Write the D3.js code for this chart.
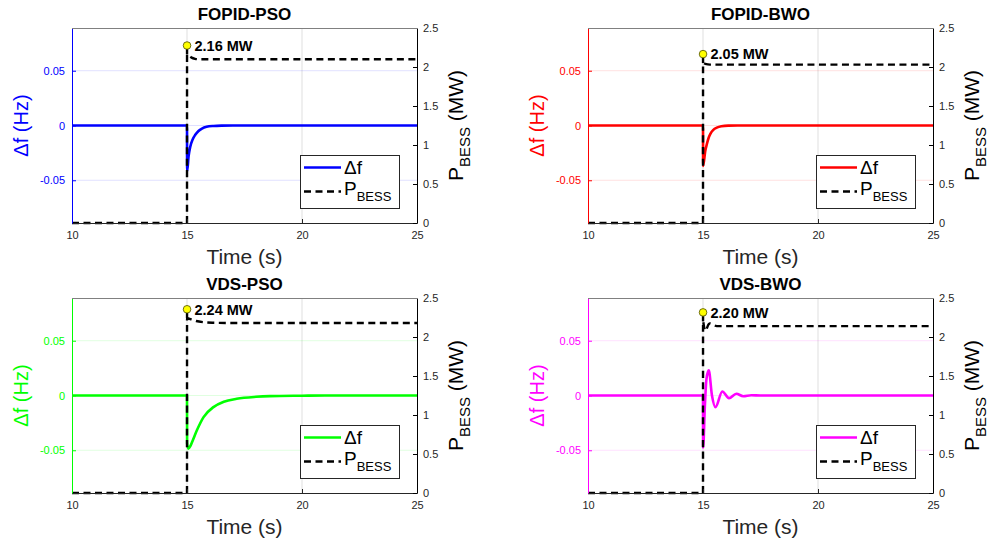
<!DOCTYPE html>
<html>
<head>
<meta charset="utf-8">
<script src="https://cdn.jsdelivr.net/npm/d3@7"></script>
<style>
  body { margin: 0; background: #fff; }
  svg { display: block; }
  text { font-family: "Liberation Sans", Arial, Helvetica, sans-serif; }
</style>
</head>
<body>
<svg id="chart" width="998" height="545"></svg>
<script>
// ---- data ----
const titles = ["FOPID-PSO", "FOPID-BWO", "VDS-PSO", "VDS-BWO"];
const lineColors = ["#0000ff", "#ff0000", "#00ff00", "#ff00ff"];
const timeTicks = [10, 15, 20, 25];
const dfTicks = [-0.05, 0, 0.05];
const pTicks = [0, 0.5, 1, 1.5, 2, 2.5];
const timeDomain = [10, 25];
const dfDomain = [-0.089, 0.089];
const pDomain = [0, 2.5];

// frequency deviation [time s, Δf Hz]
const dfFopidPso = [[10, 0], [15, 0], [15.005, -0.042], [15.07, -0.028], [15.14, -0.0196], [15.25, -0.0125],
  [15.36, -0.0085], [15.5, -0.005], [15.65, -0.0028], [15.85, -0.0012], [16.15, -0.0004], [16.5, -0.0001], [17, 0], [25, 0]];
const dfFopidBwo = [[10, 0], [15, 0], [15.005, -0.037], [15.1, -0.023], [15.17, -0.0168], [15.25, -0.011],
  [15.32, -0.0076], [15.45, -0.004], [15.6, -0.002], [15.8, -0.0007], [16.1, -0.0001], [16.5, 0], [25, 0]];
const dfVdsPso = [[10, 0], [15, 0], [15.005, -0.044], [15.06, -0.0485], [15.15, -0.046], [15.25, -0.041],
  [15.43, -0.0318], [15.72, -0.0197], [16.15, -0.0106], [16.6, -0.0057], [17.16, -0.003], [18, -0.0012],
  [18.6, -0.0006], [20, -0.0002], [21, 0], [25, 0]];
const dfVdsBwo = [[10, 0], [15, 0], [15.005, -0.0475], [15.08, -0.01], [15.15, 0.015], [15.25, 0.0229],
  [15.39, 0], [15.54, -0.0106], [15.84, 0.0037], [16.13, -0.0024], [16.45, 0.0016], [16.75, -0.0007],
  [17.1, 0.0002], [17.5, 0], [25, 0]];

// BESS power [time s, P MW]
const pFopidPso = [[10, 0], [15, 0], [15.002, 2.16], [15.1, 2.14], [15.2, 2.12], [15.35, 2.105], [15.5, 2.10], [25, 2.10]];
const pFopidBwo = [[10, 0], [15, 0], [15.002, 2.05], [15.1, 2.04], [15.3, 2.03], [25, 2.03]];
const pVdsPso = [[10, 0], [15, 0], [15.002, 2.24], [15.2, 2.225], [15.4, 2.205], [15.7, 2.19], [16.1, 2.183], [17, 2.18], [25, 2.18]];
const pVdsBwo = [[10, 0], [15, 0], [15.002, 2.20], [15.05, 2.12], [15.1, 2.08], [15.25, 2.165], [15.3, 2.175],
  [15.6, 2.14], [25, 2.14]];

const dfSeries = [dfFopidPso, dfFopidBwo, dfVdsPso, dfVdsBwo];
const pSeries = [pFopidPso, pFopidBwo, pVdsPso, pVdsBwo];

// ---- layout ----
const panelOrigins = [[72, 28], [588, 28], [72, 298], [588, 298]];
const pw = 345, ph = 195;
const axisInk = "#262626";
const markerLift = 9;   // peak pin sits just above the trace so its label clears the line

const svg = d3.select("#chart");

titles.forEach((title, i) => {
  const [ox, oy] = panelOrigins[i];
  const color = lineColors[i];
  const g = svg.append("g").attr("transform", `translate(${ox},${oy})`);

  const x = d3.scaleLinear().domain(timeDomain).range([0, pw]);
  const yL = d3.scaleLinear().domain(dfDomain).range([ph, 0]);
  const yR = d3.scaleLinear().domain(pDomain).range([ph, 0]);

  // grid
  g.append("g").selectAll("line").data(timeTicks.slice(1, -1)).join("line")
    .attr("x1", d => x(d)).attr("x2", d => x(d)).attr("y1", 0).attr("y2", ph)
    .attr("stroke", axisInk).attr("stroke-opacity", 0.15).attr("stroke-width", 1);
  g.append("g").selectAll("line").data(dfTicks).join("line")
    .attr("x1", 0).attr("x2", pw).attr("y1", d => yL(d)).attr("y2", d => yL(d))
    .attr("stroke", color).attr("stroke-opacity", 0.12).attr("stroke-width", 1);

  // Δf trace
  const dfLine = d3.line().x(d => x(d[0])).y(d => yL(d[1])).curve(d3.curveMonotoneX);
  g.append("path").datum(dfSeries[i]).attr("d", dfLine)
    .attr("fill", "none").attr("stroke", color).attr("stroke-width", 2.6).attr("stroke-linejoin", "round");

  // P_BESS trace
  const pLine = d3.line().x(d => x(d[0])).y(d => yR(d[1])).curve(d3.curveMonotoneX);
  g.append("path").datum(pSeries[i]).attr("d", pLine)
    .attr("fill", "none").attr("stroke", "#000").attr("stroke-width", 2.4)
    .attr("stroke-dasharray", "7,4.5");

  // axes
  const xAxis = d3.axisBottom(x).tickValues(timeTicks).tickSize(-4).tickSizeOuter(0).tickPadding(8)
    .tickFormat(d => String(d));
  const gx = g.append("g").attr("transform", `translate(0,${ph})`).call(xAxis);
  gx.select(".domain").attr("stroke", axisInk);
  gx.selectAll(".tick line").attr("stroke", axisInk);
  gx.selectAll("text").attr("fill", axisInk).attr("font-size", 11);

  const lAxis = d3.axisLeft(yL).tickValues(dfTicks).tickSize(-4).tickSizeOuter(0).tickPadding(7)
    .tickFormat(d => String(d));
  const gl = g.append("g").call(lAxis);
  gl.select(".domain").attr("stroke", color);
  gl.selectAll(".tick line").attr("stroke", color);
  gl.selectAll("text").attr("fill", color).attr("font-size", 11);

  const rAxis = d3.axisRight(yR).tickValues(pTicks).tickSize(-4).tickSizeOuter(0).tickPadding(6)
    .tickFormat(d => String(d));
  const gr = g.append("g").attr("transform", `translate(${pw},0)`).call(rAxis);
  gr.select(".domain").attr("stroke", "#000");
  gr.selectAll(".tick line").attr("stroke", "#000");
  gr.selectAll("text").attr("fill", axisInk).attr("font-size", 11);

  // top edge of the box
  g.append("line").attr("x1", 0).attr("x2", pw).attr("y1", 0.5).attr("y2", 0.5)
    .attr("stroke", "#808080").attr("stroke-width", 1);

  // title and axis labels
  g.append("text").attr("x", pw / 2).attr("y", -8).attr("text-anchor", "middle")
    .attr("font-size", 17).attr("font-weight", "bold").attr("fill", "#000").text(title);

  g.append("text").attr("x", pw / 2).attr("y", ph + 40.5).attr("text-anchor", "middle")
    .attr("font-size", 21).attr("fill", axisInk).text("Time (s)");

  g.append("text").attr("transform", `translate(-44.5,${ph / 2}) rotate(-90)`)
    .attr("text-anchor", "middle").attr("font-size", 20).attr("fill", color).text("Δf (Hz)");

  const rl = g.append("text").attr("transform", `translate(${pw + 46},${ph / 2}) rotate(-90)`)
    .attr("text-anchor", "middle").attr("fill", "#000");
  rl.append("tspan").attr("font-size", 21).text("P");
  rl.append("tspan").attr("font-size", 15).attr("dy", 7).text("BESS");
  rl.append("tspan").attr("font-size", 21).attr("dy", -7).text(" (MW)");

  // legend
  const lg = g.append("g").attr("transform", `translate(228,127)`);
  lg.append("rect").attr("x", 0.5).attr("y", 0.5).attr("width", 99).attr("height", 53)
    .attr("fill", "#fff").attr("stroke", axisInk).attr("stroke-width", 1);
  lg.append("line").attr("x1", 4).attr("x2", 41).attr("y1", 12.5).attr("y2", 12.5)
    .attr("stroke", color).attr("stroke-width", 2.6);
  lg.append("text").attr("x", 44).attr("y", 19).attr("font-size", 19).attr("fill", "#000").text("Δf");
  lg.append("line").attr("x1", 4).attr("x2", 41).attr("y1", 36.5).attr("y2", 36.5)
    .attr("stroke", "#000").attr("stroke-width", 2.4).attr("stroke-dasharray", "7,4.5");
  const lt = lg.append("text").attr("x", 44).attr("y", 40).attr("fill", "#000");
  lt.append("tspan").attr("font-size", 19).text("P");
  lt.append("tspan").attr("font-size", 13).attr("dy", 6).text("BESS");

  // peak marker and label
  const peak = d3.greatest(pSeries[i], d => d[1]);
  const px = x(peak[0]), py = yR(peak[1]) - markerLift;
  g.append("line").attr("x1", px).attr("x2", px).attr("y1", yR(peak[1])).attr("y2", py)
    .attr("stroke", "#000").attr("stroke-width", 2.4);
  g.append("circle").attr("cx", px).attr("cy", py).attr("r", 3.8)
    .attr("fill", "#ffff00").attr("stroke", "#4d4d00").attr("stroke-width", 0.8);
  g.append("text").attr("x", px + 7.5).attr("y", py).attr("dy", "0.36em")
    .attr("font-size", 14.5).attr("font-weight", "bold").attr("fill", "#000")
    .text(d3.format(".2f")(peak[1]) + " MW");
});
</script>
</body>
</html>
